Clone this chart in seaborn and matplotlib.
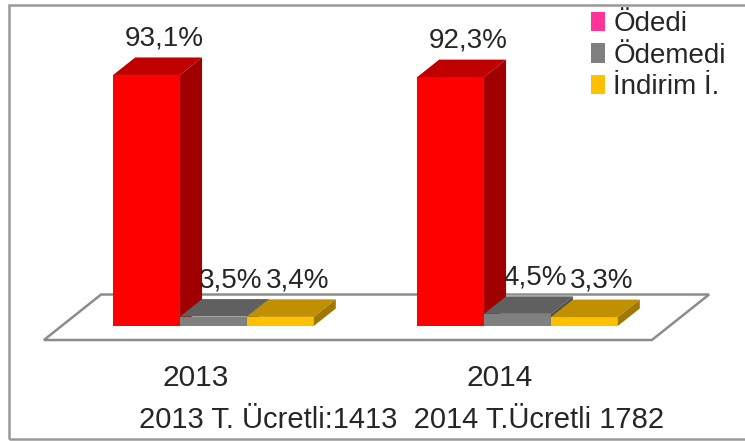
import pandas as pd
import matplotlib
matplotlib.use("Agg")
import matplotlib.pyplot as plt
import matplotlib.transforms as mtransforms
from matplotlib.patches import Polygon, Patch, Rectangle
import seaborn as sns

years = ["2013", "2014"]
statuses = ["Ödedi", "Ödemedi", "İndirim İ."]
odedi = [93.1, 92.3]
odemedi = [3.5, 4.5]
indirim = [3.4, 3.3]
subtitle = "2013 T. Ücretli:1413  2014 T.Ücretli 1782"

front_colors = ["#FF0000", "#808080", "#FFC000"]
top_colors = ["#C00000", "#606060", "#C09000"]
side_colors = ["#A00000", "#505050", "#A07800"]
legend_colors = ["#FF3399", "#808080", "#FFC000"]

df = pd.DataFrame({
    "year": years * 3,
    "status": [s for s in statuses for _ in years],
    "value": odedi + odemedi + indirim,
})

sns.set_style("white")
plt.rcParams["font.family"] = ["Liberation Sans", "DejaVu Sans"]

W, H = 745, 441
fig = plt.figure(figsize=(W / 100, H / 100), dpi=100)
ax = fig.add_axes([0, 1 - 340 / H, 1, 340 / H])
ax.patch.set_visible(False)

sns.barplot(data=df, x="year", y="value", hue="status", order=years,
            hue_order=statuses, palette=front_colors, width=0.66,
            saturation=1, linewidth=0, legend=False, ax=ax)

ax.set_xlim(-0.7023, 1.7484)
ax.set_ylim(-5.19, 120.9)

# fake 3d depth (pixels -> data units)
DEPTH_PX = (22, 17.5)
x0, x1 = ax.get_xlim()
y0, y1 = ax.get_ylim()
dx = DEPTH_PX[0] * (x1 - x0) / ax.bbox.width
dy = DEPTH_PX[1] * (y1 - y0) / ax.bbox.height
gap = 12 * (y1 - y0) / ax.bbox.height

# floor
near, far = -0.8, 1.8
fl, fr = -0.5, len(years) - 0.5
floor = Polygon([(fl + near * dx, near * dy), (fr + near * dx, near * dy),
                 (fr + far * dx, far * dy), (fl + far * dx, far * dy)],
                closed=True, facecolor="white", edgecolor="#8c8c8c",
                lw=1.8, zorder=1, clip_on=False)
ax.add_patch(floor)

for i, cont in enumerate(ax.containers):
    for bar in cont:
        x, w, h = bar.get_x(), bar.get_width(), bar.get_height()
        bar.set_zorder(3 + i)
        top = Polygon([(x, h), (x + w, h), (x + w + dx, h + dy), (x + dx, h + dy)],
                      closed=True, fc=top_colors[i], lw=0, zorder=3 + i)
        side = Polygon([(x + w, 0), (x + w + dx, dy), (x + w + dx, h + dy), (x + w, h)],
                       closed=True, fc=side_colors[i], lw=0, zorder=3 + i)
        ax.add_patch(top)
        ax.add_patch(side)
        txt = f"{h:.1f}".replace(".", ",") + "%"
        ax.text(x + w / 2 + 0.8 * dx, h + dy + gap, txt, ha="center",
                va="baseline", fontsize=20, zorder=10)

ax.set_yticks([])
ax.set_ylabel("")
ax.tick_params(axis="x", length=0, labelsize=21.5, pad=17)
sns.despine(ax=ax, left=True, bottom=True)
offset = mtransforms.ScaledTranslation(near * DEPTH_PX[0] / fig.dpi, 0, fig.dpi_scale_trans)
for lbl in ax.get_xticklabels():
    lbl.set_transform(lbl.get_transform() + offset)

ax.set_xlabel(subtitle, fontsize=21)
ax.xaxis.set_label_coords(401.5 / W, -(428 - 340) / 340)
ax.xaxis.label.set_va("baseline")

handles = [Patch(facecolor=c, edgecolor="none") for c in legend_colors]
fig.legend(handles, statuses, loc="upper left", bbox_to_anchor=(591 / W, 1 - 11 / H),
           frameon=False, fontsize=20, handlelength=0.5, handleheight=0.7,
           handletextpad=0.3, labelspacing=0.2, borderpad=0, borderaxespad=0)

border = Rectangle((9 / W, 2 / H), 1.0, 434 / H, transform=fig.transFigure,
                   fill=False, ec="#999999", lw=1.8, zorder=20)
fig.add_artist(border)

fig.savefig("out.png", dpi=100)
